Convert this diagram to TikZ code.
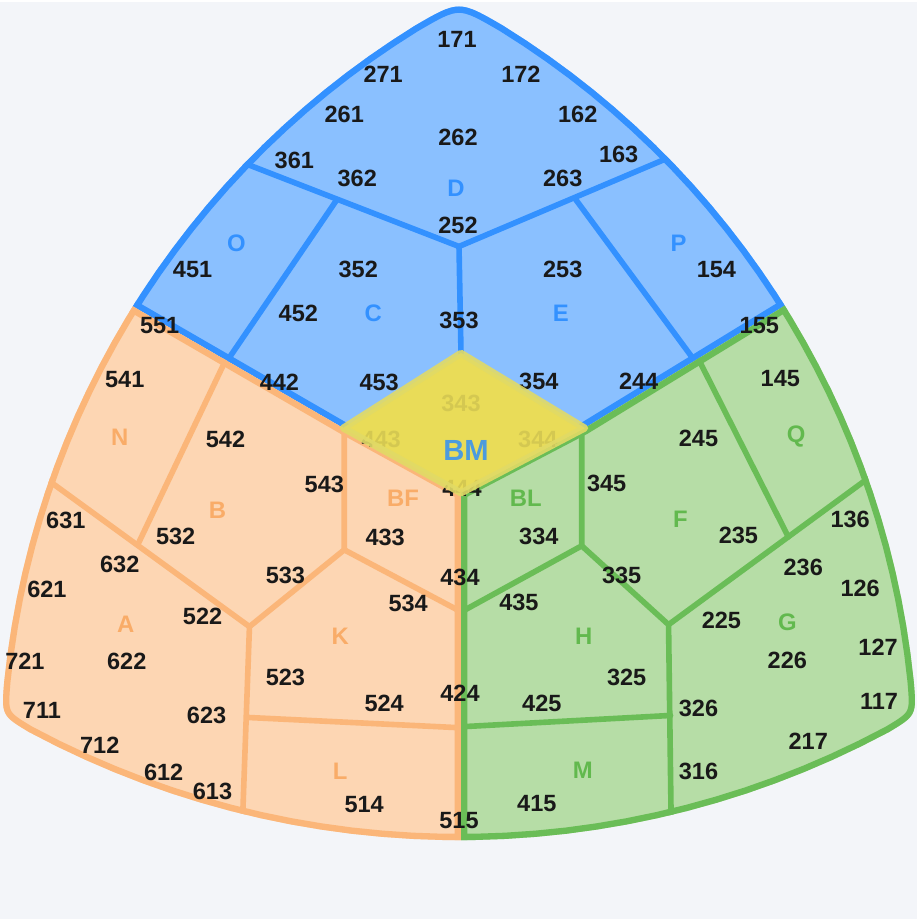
\documentclass[tikz,border=0pt]{standalone}
\usepackage{fontspec}
\setmainfont{Liberation Sans}
\usetikzlibrary{calc}
\definecolor{pagebg}{HTML}{F3F5F9}
\definecolor{bluefill}{HTML}{8AC0FF}
\definecolor{bluerim}{HTML}{3391FF}
\definecolor{orangefill}{HTML}{FDD6B3}
\definecolor{orangerim}{HTML}{FBB679}
\definecolor{orangetag}{HTML}{F9AC68}
\definecolor{greenfill}{HTML}{B6DDA6}
\definecolor{greenrim}{HTML}{6ABD57}
\definecolor{greentag}{HTML}{62B94E}
\definecolor{bmfill}{HTML}{E9DC58}
\definecolor{bmrim}{HTML}{E1DA66}
\definecolor{bmtext}{HTML}{4C9BDE}
\tikzset{
	seat/.style={font=\bfseries\fontsize{6.7}{8}\selectfont, text=black!90, inner sep=0pt},
	block/.style={font=\bfseries\fontsize{6.8}{8}\selectfont, inner sep=0pt},
	cut/.style={line width=1.6pt, line cap=round, line join=round},
	rim/.style={line width=3.6pt, line join=round}
}
\def\shellpath{(30,732.2) .. controls (1.3,715) .. (4.3,680) -- plot[domain=185.88:238.26,samples=30] ({876.7+877*cos(\x)},{769.8+877*sin(\x)}) .. controls (460,-2) .. (504.7,24) -- plot[domain=-58.26:-5.88,samples=30] ({43.3+877*cos(\x)},{769.8+877*sin(\x)}) .. controls (918.7,715) .. (890,732.2) -- plot[domain=61.85:118.15,samples=30] ({460+911.4*cos(\x)},{-71.4+911.4*sin(\x)}) -- cycle}
\def\bluezone{(bo) -- (dial) -- (diab) -- (diar) -- (bg) -- (460,-100) -- cycle}
\def\orangezone{(bo) -- (dial) -- (diab) -- (462,1000) -- (-100,1000) -- cycle}
\def\greenzone{(bg) -- (diar) -- (diab) -- (462,1000) -- (1020,1000) -- cycle}
\def\bmzone{(diat) -- (diar) -- (diab) -- (dial) -- cycle}

\begin{document}
\begin{tikzpicture}[x=0.01cm, y=-0.01cm]
	\fill[pagebg] (0,0) rectangle (919,919);
	\coordinate (bo) at (-78,183);
	\coordinate (bg) at (998,175);
	\coordinate (diat) at (462,352);
	\coordinate (dial) at (344,427);
	\coordinate (diar) at (586,427);
	\coordinate (diab) at (462,492);
	\coordinate (dmid) at (460,245);
	\coordinate (jB) at (345,549);
	\coordinate (jA) at (250,626);
	\coordinate (jN) at (138,544);
	\coordinate (jBL) at (583,545);
	\coordinate (jH) at (670,624);
	\begin{scope}
		\clip \shellpath;
		\begin{scope}
			\clip \bluezone;
			\fill[bluefill] \bluezone;
			\draw[bluerim, rim] \shellpath;
			\draw[bluerim, rim] \bluezone;
			\draw[bluerim, cut] (228,155) -- (dmid) -- (682,151);
			\draw[bluerim, cut] (dmid) -- (diat);
			\draw[bluerim, cut] (337,199) -- (226,362);
			\draw[bluerim, cut] (577,198) -- (698,362);
		\end{scope}
		\begin{scope}
			\clip \orangezone;
			\fill[orangefill] \orangezone;
			\draw[orangerim, rim] \shellpath;
			\draw[orangerim, rim] \orangezone;
			\draw[orangerim, cut] (228,355) -- (jN);
			\draw[orangerim, cut] (30,466) -- (jA) -- (jB) -- (345,420);
			\draw[orangerim, cut] (jB) -- (475,618);
			\draw[orangerim, cut] (jA) -- (242,850);
			\draw[orangerim, cut] (248,717) -- (475,728);
		\end{scope}
		\begin{scope}
			\clip \greenzone;
			\fill[greenfill] \greenzone;
			\draw[greenrim, rim] \shellpath;
			\draw[greenrim, rim] \greenzone;
			\draw[greenrim, cut] (583,420) -- (jBL) -- (450,618);
			\draw[greenrim, cut] (jBL) -- (jH) -- (673,850);
			\draw[greenrim, cut] (jH) -- (895,459);
			\draw[greenrim, cut] (697,352) -- (790,536);
			\draw[greenrim, cut] (450,727) -- (672,715);
		\end{scope}
	\end{scope}
	\fill[bmfill] \bmzone;
	\node[seat] (n171) at (458,37) {171};
	\node[seat] (n271) at (384,72) {271};
	\node[seat] (n172) at (522,72) {172};
	\node[seat] (n261) at (345,113) {261};
	\node[seat] (n162) at (579,113) {162};
	\node[seat] (n262) at (459,136) {262};
	\node[seat] (n361) at (295,159) {361};
	\node[seat] (n163) at (620,153) {163};
	\node[seat] (n362) at (358,177) {362};
	\node[seat] (n263) at (564,177) {263};
	\node[seat] (n252) at (459,224) {252};
	\node[seat] (n451) at (193,268) {451};
	\node[seat] (n352) at (359,268) {352};
	\node[seat] (n253) at (564,268) {253};
	\node[seat] (n154) at (718,268) {154};
	\node[seat] (n452) at (299,312) {452};
	\node[seat] (n353) at (460,319) {353};
	\node[seat] (n155) at (761,324) {155};
	\node[seat] (n551) at (160,324) {551};
	\node[seat] (n442) at (280,381) {442};
	\node[seat] (n453) at (380,381) {453};
	\node[seat] (n354) at (540,380) {354};
	\node[seat] (n244) at (640,380) {244};
	\node[seat] (n343) at (462,402) {343};
	\node[seat] (n443) at (382,438) {443};
	\node[seat] (n344) at (539,438) {344};
	\node[seat] (n444) at (463,487) {444};
	\node[seat] (n541) at (125,378) {541};
	\node[seat] (n542) at (226,438) {542};
	\node[seat] (n543) at (325,483) {543};
	\node[seat] (n631) at (66,520) {631};
	\node[seat] (n532) at (176,536) {532};
	\node[seat] (n433) at (386,537) {433};
	\node[seat] (n632) at (120,564) {632};
	\node[seat] (n533) at (286,575) {533};
	\node[seat] (n434) at (461,577) {434};
	\node[seat] (n621) at (47,589) {621};
	\node[seat] (n534) at (409,603) {534};
	\node[seat] (n522) at (203,616) {522};
	\node[seat] (n721) at (25,661) {721};
	\node[seat] (n622) at (127,661) {622};
	\node[seat] (n523) at (286,677) {523};
	\node[seat] (n424) at (461,693) {424};
	\node[seat] (n711) at (42,710) {711};
	\node[seat] (n524) at (385,703) {524};
	\node[seat] (n623) at (207,715) {623};
	\node[seat] (n712) at (100,745) {712};
	\node[seat] (n612) at (164,772) {612};
	\node[seat] (n613) at (213,791) {613};
	\node[seat] (n514) at (365,804) {514};
	\node[seat] (n515) at (460,820) {515};
	\node[seat] (n145) at (782,377) {145};
	\node[seat] (n245) at (700,437) {245};
	\node[seat] (n345) at (608,482) {345};
	\node[seat] (n136) at (852,519) {136};
	\node[seat] (n334) at (540,536) {334};
	\node[seat] (n235) at (740,535) {235};
	\node[seat] (n236) at (805,567) {236};
	\node[seat] (n335) at (623,575) {335};
	\node[seat] (n126) at (862,588) {126};
	\node[seat] (n435) at (520,602) {435};
	\node[seat] (n225) at (723,620) {225};
	\node[seat] (n127) at (880,647) {127};
	\node[seat] (n226) at (789,660) {226};
	\node[seat] (n325) at (628,677) {325};
	\node[seat] (n425) at (543,703) {425};
	\node[seat] (n326) at (700,708) {326};
	\node[seat] (n117) at (881,701) {117};
	\node[seat] (n217) at (810,741) {217};
	\node[seat] (n316) at (700,771) {316};
	\node[seat] (n415) at (538,803) {415};
	\draw[bmrim, line width=2pt, fill=bmfill, fill opacity=0.9, draw opacity=0.9, line join=round] \bmzone;
	\node[block, text=bluerim] (zoneD) at (457,187) {D};
	\node[block, text=bluerim] (zoneO) at (237,242) {O};
	\node[block, text=bluerim] (zoneP) at (680,242) {P};
	\node[block, text=bluerim] (zoneC) at (374,312) {C};
	\node[block, text=bluerim] (zoneE) at (562,312) {E};
	\node[block, text=orangetag] (zoneN) at (120,436) {N};
	\node[block, text=orangetag] (zoneBF) at (404,497) {BF};
	\node[block, text=orangetag] (zoneB) at (218,509) {B};
	\node[block, text=orangetag] (zoneA) at (126,624) {A};
	\node[block, text=orangetag] (zoneK) at (341,636) {K};
	\node[block, text=orangetag] (zoneL) at (341,771) {L};
	\node[block, text=greentag] (zoneQ) at (798,435) {Q};
	\node[block, text=greentag] (zoneBL) at (527,497) {BL};
	\node[block, text=greentag] (zoneF) at (682,518) {F};
	\node[block, text=greentag] (zoneG) at (789,622) {G};
	\node[block, text=greentag] (zoneH) at (585,636) {H};
	\node[block, text=greentag] (zoneM) at (584,770) {M};
	\node[font=\bfseries\fontsize{8.3}{10}\selectfont, text=bmtext, inner sep=0pt] (zoneBM) at (467,449) {BM};
\end{tikzpicture}
\end{document}
